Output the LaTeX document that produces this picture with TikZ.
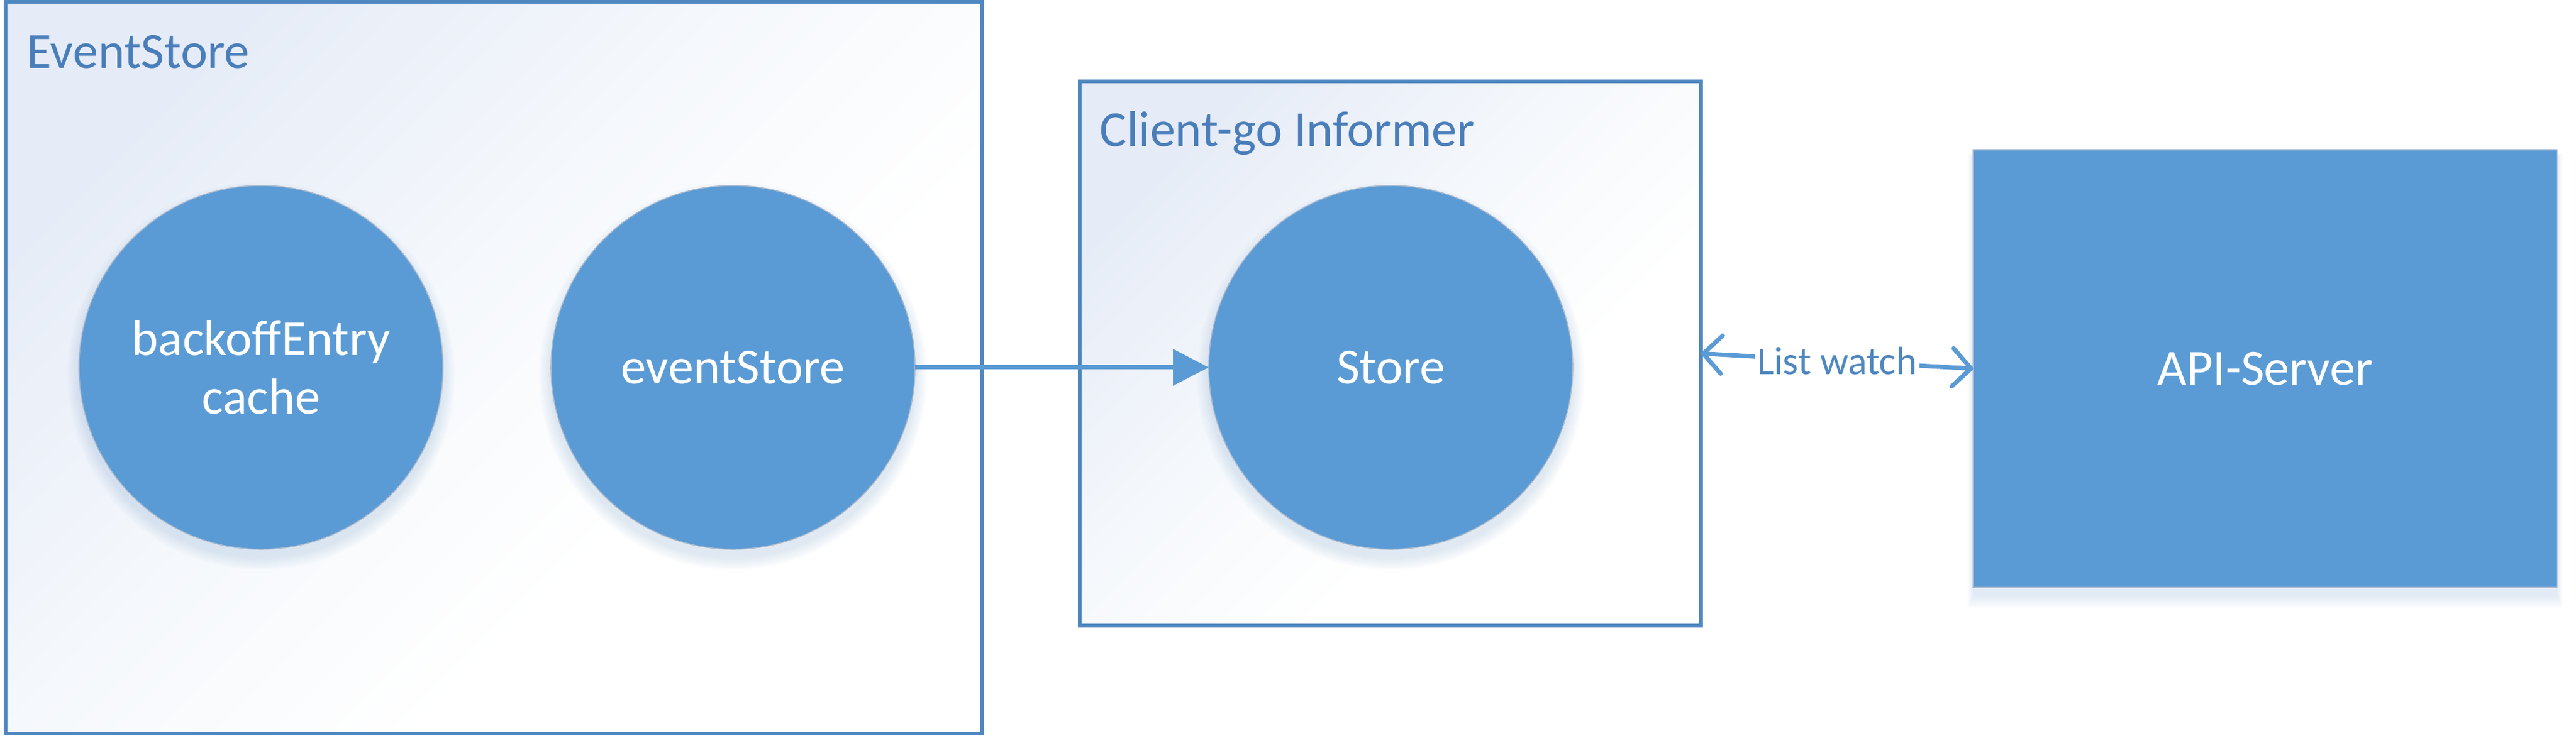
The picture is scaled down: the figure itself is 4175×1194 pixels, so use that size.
\documentclass[tikz,border=0pt]{standalone}
\usepackage{fontspec}
\setmainfont{Carlito}
\usetikzlibrary{arrows.meta}
\definecolor{shapeblue}{HTML}{5B9BD5}
\definecolor{edgeblue}{HTML}{4F87C0}
\definecolor{labelblue}{HTML}{4A7EBA}
\definecolor{boxtint}{HTML}{E6ECF7}
\definecolor{boxmid}{HTML}{F5F8FC}
\definecolor{rimgray}{HTML}{A9B9CD}
\definecolor{shadowblue}{HTML}{7FA6D6}
\pgfdeclareverticalshading{boxfade}{100bp}{color(0bp)=(white); color(38bp)=(white); color(55bp)=(boxmid); color(75bp)=(boxtint); color(100bp)=(boxtint)}
\newcommand{\bigfont}{\fontsize{20.5pt}{23.75pt}\selectfont}
\newcommand{\smallfont}{\fontsize{16pt}{19pt}\selectfont}
\begin{document}
\begin{tikzpicture}[x=0.25pt,y=0.25pt,
  container/.style={rectangle, draw=edgeblue, line width=1.5pt, inner sep=0pt, outer sep=0pt,
    shade, shading=boxfade, shading angle=45},
  boxtitle/.style={anchor=base west, inner sep=0pt, text=labelblue, font=\bigfont},
  bubble/.style={circle, fill=shapeblue, draw=rimgray, line width=0.4pt, minimum size=147.5pt,
    inner sep=0pt, outer sep=0pt, text=white, font=\bigfont, align=center},
  server/.style={rectangle, fill=shapeblue, draw=rimgray, line width=0.4pt, minimum width=236.5pt,
    minimum height=177.5pt, inner sep=0pt, outer sep=0pt, text=white, font=\bigfont},
  conn/.style={draw=shapeblue, line width=1.75pt},
  halo/.style={fill=shadowblue, opacity=0.035},
  tag/.style={fill=white, inner sep=1pt, text=edgeblue, font=\smallfont}
]
\useasboundingbox (0,0) rectangle (4175,-1194);
% containers
\node[container, minimum width=395.625pt, minimum height=296.625pt] (evbox) at (800.25,-596.75) {};
\node[container, minimum width=251.75pt, minimum height=220.75pt] (cibox) at (2253.5,-573.5) {};
\node[boxtitle] (evtitle) at (43,-111) {EventStore};
\node[boxtitle] (cititle) at (1782,-238) {Client-go Informer};
% soft shadows
\foreach \cx in {423,1188,2254}{
  \foreach \k in {0,...,6}{
    \fill[halo] (\cx,-610) circle[radius={74pt+0.75pt*\k}];
  }
}
\foreach \k in {0,...,6}{
  \fill[halo] ({3198-1.5*\k},{-258+1.5*\k}) rectangle ({4144+1.5*\k},{-968-3*\k});
}
% shapes
\node[bubble] (bo) at (423,-596) {backoffEntry\\cache};
\node[bubble] (es) at (1188,-596) {eventStore};
\node[bubble] (st) at (2254,-596) {Store};
\node[server] (api) at (3671,-598) {API-Server};
% connectors
\draw[conn, -{Triangle[length=14.5pt,width=14.5pt]}] (es) -- (st);
\draw[conn, {Straight Barb[length=7.5pt,width=15.5pt,round]}-{Straight Barb[length=7.5pt,width=15.5pt,round]}]
  (cibox.east) -- node[tag] (lw) {List watch} (api.west);
\end{tikzpicture}
\end{document}
